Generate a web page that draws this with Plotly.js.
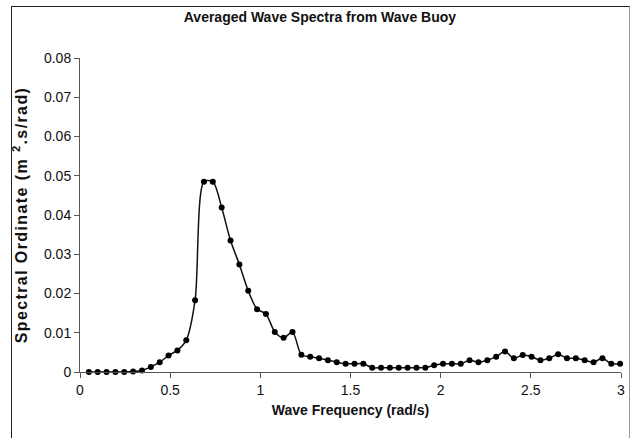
<!DOCTYPE html>
<html>
<head>
<meta charset="utf-8">
<script src="https://cdn.plot.ly/plotly-3.0.1.min.js"></script>
<style>
html,body{margin:0;padding:0;background:#fff;}
#wrap{position:relative;width:631px;height:438px;}
#chart{position:absolute;left:0;top:0;width:631px;height:438px;}
#frame{position:absolute;left:11px;top:6px;width:617px;height:440px;border-left:1.5px solid #222;border-top:1.5px solid #222;border-right:1px solid #999;pointer-events:none;}
#chart .ytitle{letter-spacing:1.4px;}
</style>
</head>
<body>
<div id="wrap">
<div id="chart"></div>
<div id="frame"></div>
</div>
<script>
// frequency step (rad/s) and point count
var freqStep = 0.0491;
var freqIndex = [];
for (var i = 1; i <= 61; i++) freqIndex.push(i);
var frequency = freqIndex.map(function(k){ return +(k * freqStep).toFixed(4); });

// spectral ordinate values (m^2.s/rad)
var spectralOrdinate = [
  0.0000, 0.0000, 0.0000, 0.0000, 0.0000, 0.0001, 0.0004, 0.0013, 0.0025, 0.0042,
  0.0055, 0.0081, 0.0183, 0.0485, 0.0485, 0.0419, 0.0335, 0.0274, 0.0207, 0.0160,
  0.0148, 0.0102, 0.0087, 0.0102, 0.0044, 0.0039, 0.0035, 0.0030, 0.0025, 0.0021,
  0.0021, 0.0021, 0.0011, 0.0011, 0.0011, 0.0011, 0.0011, 0.0011, 0.0011, 0.0017,
  0.0021, 0.0021, 0.0021, 0.0030, 0.0025, 0.0030, 0.0039, 0.0052, 0.0035, 0.0043,
  0.0039, 0.0030, 0.0035, 0.0045, 0.0035, 0.0035, 0.0030, 0.0025, 0.0035, 0.0021,
  0.0021
];

var xTickVals = [0, 0.5, 1, 1.5, 2, 2.5, 3];
var xTickText = ['0', '0.5', '1', '1.5', '2', '2.5', '3'];
var yTickVals = [0, 0.01, 0.02, 0.03, 0.04, 0.05, 0.06, 0.07, 0.08];
var yTickText = ['0', '0.01', '0.02', '0.03', '0.04', '0.05', '0.06', '0.07', '0.08'];

var sans = '"Liberation Sans", Arial, sans-serif';

var trace = {
  x: frequency,
  y: spectralOrdinate,
  type: 'scatter',
  mode: 'lines+markers',
  line: {color: '#111', width: 1.5, shape: 'spline', smoothing: 0.8},
  marker: {color: '#000', size: 6},
  cliponaxis: false,
  hoverinfo: 'x+y'
};

var layout = {
  width: 631,
  height: 438,
  margin: {l: 80, r: 10, t: 58, b: 66},
  paper_bgcolor: '#fff',
  plot_bgcolor: '#fff',
  showlegend: false,
  title: {
    text: '<b>Averaged Wave Spectra from Wave Buoy</b>',
    font: {family: sans, size: 14, color: '#111'},
    x: 0.507, xanchor: 'center', xref: 'container', y: 0.962, yanchor: 'middle'
  },
  xaxis: {
    range: [0, 3],
    tickvals: xTickVals,
    ticktext: xTickText,
    ticks: 'outside',
    ticklen: 5,
    tickcolor: '#555',
    showline: true,
    linecolor: '#555',
    linewidth: 1,
    showgrid: false,
    zeroline: false,
    tickfont: {family: sans, size: 14, color: '#111'},
    title: {text: '<b>Wave Frequency (rad/s)</b>', font: {family: sans, size: 14, color: '#111'}, standoff: 8}
  },
  yaxis: {
    range: [0, 0.08],
    tickvals: yTickVals,
    ticktext: yTickText,
    ticks: 'outside',
    ticklen: 5,
    tickcolor: '#555',
    showline: true,
    linecolor: '#555',
    linewidth: 1,
    showgrid: false,
    zeroline: false,
    tickfont: {family: sans, size: 14, color: '#111'},
    title: {text: '<b>Spectral Ordinate (m <sup>2</sup>.s/rad)</b>', font: {family: sans, size: 16, color: '#111'}, standoff: 12}
  }
};

Plotly.newPlot('chart', [trace], layout, {displayModeBar: false, staticPlot: true});
</script>
</body>
</html>
